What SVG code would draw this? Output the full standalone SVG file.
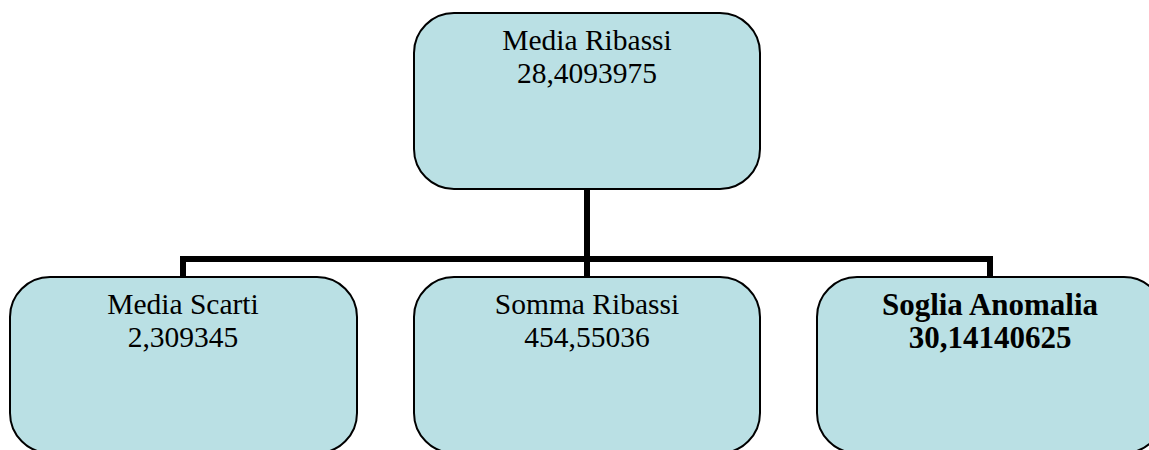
<svg xmlns="http://www.w3.org/2000/svg" width="1149" height="450" viewBox="0 0 1149 450">
<style>
.box{fill:#BAE0E4;stroke:#000;stroke-width:2}
.t{font-family:"Liberation Serif","Times New Roman",serif;font-size:29.5px;fill:#000;text-anchor:middle}
.b{font-weight:bold;font-size:31px}
.c{fill:none;stroke:#000;stroke-width:6}
</style>
<rect width="1149" height="450" fill="#fff"/>
<g id="connectors">
<path class="c" d="M587 189V277"/>
<path class="c" d="M183 277V259H990V277"/>
</g>
<g id="n-media-ribassi">
<rect class="box" x="414" y="13" width="346" height="176" rx="40" ry="40"/>
<text class="t" x="587" y="50">Media Ribassi</text>
<text class="t" x="587" y="83">28,4093975</text>
</g>
<g id="n-media-scarti">
<rect class="box" x="10" y="277" width="347" height="176" rx="40" ry="40"/>
<text class="t" x="183" y="314">Media Scarti</text>
<text class="t" x="183" y="347">2,309345</text>
</g>
<g id="n-somma-ribassi">
<rect class="box" x="414" y="277" width="346" height="176" rx="40" ry="40"/>
<text class="t" x="587" y="314">Somma Ribassi</text>
<text class="t" x="587" y="347">454,55036</text>
</g>
<g id="n-soglia-anomalia">
<rect class="box" x="817" y="277" width="347" height="176" rx="40" ry="40"/>
<text class="t b" x="990" y="315">Soglia Anomalia</text>
<text class="t b" x="990" y="348">30,14140625</text>
</g>
</svg>
